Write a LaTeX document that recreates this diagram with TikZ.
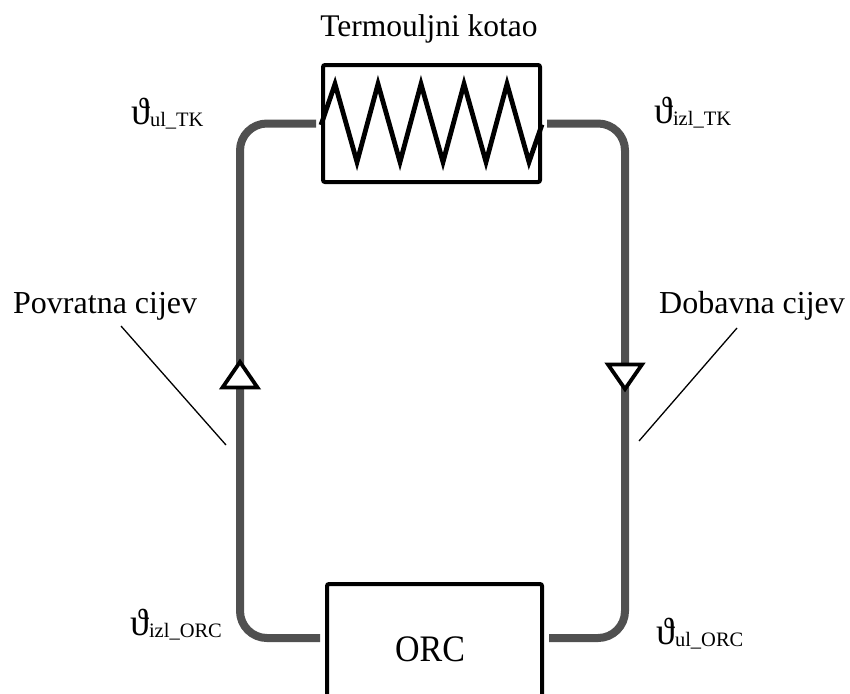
\documentclass[tikz,border=0pt]{standalone}
\usepackage{fontspec}
\setmainfont{Liberation Serif}
\usepackage{graphicx}
\definecolor{pipegray}{HTML}{505050}
\tikzset{
  pipe/.style={draw=pipegray, line width=8pt, rounded corners=27pt},
  unit/.style={draw=black, line width=4pt, rounded corners=2pt, inner sep=0pt},
  txt/.style={inner sep=0pt, font=\fontsize{32}{36}\selectfont},
  flowmark/.style={draw=black, fill=white, line width=3.8pt, line join=miter},
  leader/.style={draw=black, line width=1.3pt},
}
\newcommand{\tlabel}[1]{\fontsize{38}{40}\selectfont ϑ\raisebox{-2pt}{\fontsize{20.5}{22}\selectfont #1}}
\begin{document}
\begin{tikzpicture}[x=1pt,y=-1pt]
\useasboundingbox (0,0) rectangle (850,693);
% units
\node[unit, minimum width=217pt, minimum height=117pt] (heater) at (431.5,123.5) {};
\node[unit, minimum width=215pt, minimum height=200pt, anchor=north west] (orc) at (325,582) {};
\node[txt, anchor=base, font=\fontsize{34}{38}\selectfont] (orctxt) at (430,661) {\scalebox{1}[1.1]{ORC}};
% zigzag
\draw[line width=4.8pt, line join=miter]
  ([yshift=-1.5pt]heater.west) -- (335,84) -- (357,162) -- (378,84) -- (400,162) -- (421,84)
  -- (443,162) -- (464,84) -- (486,162) -- (507,84) -- (529,162) -- ([yshift=-1pt]heater.east);
% title
\node[txt, anchor=base, font=\fontsize{31.5}{36}\selectfont] (title) at (429,37) {Termouljni kotao};
% pipes
\coordinate (lc) at (240,638);
\coordinate (rc) at (625,638);
\draw[pipe] ([xshift=-5pt]heater.west) -- (lc |- heater.west) -- (lc) -- ([xshift=-5pt]orc.west |- lc);
\draw[pipe] ([xshift=5pt]heater.east) -- (rc |- heater.east) -- (rc) -- ([xshift=5pt]orc.east |- rc);
% flow marks
\path[flowmark] (240,362) -- (222.5,387.5) -- (257.5,387.5) -- cycle;
\path[flowmark] (625,389) -- (608,364.5) -- (642,364.5) -- cycle;
% pipe labels
\node[txt, anchor=base west] (pov) at (13,313) {Povratna cijev};
\node[txt, anchor=base west] (dob) at (659,313) {Dobavna cijev};
\coordinate (povA) at (121,326);
\coordinate (povB) at (226,445);
\coordinate (dobA) at (737,328);
\coordinate (dobB) at (639,441);
\draw[leader] (povA) -- (povB);
\draw[leader] (dobA) -- (dobB);
% temperature labels
\node[inner sep=0pt, anchor=base west] (t1) at (131,124) {\tlabel{ul\_TK}};
\node[inner sep=0pt, anchor=base west] (t2) at (654,123) {\tlabel{izl\_TK}};
\node[inner sep=0pt, anchor=base west] (t3) at (130,635) {\tlabel{izl\_ORC}};
\node[inner sep=0pt, anchor=base west] (t4) at (656,644) {\tlabel{ul\_ORC}};
\end{tikzpicture}
\end{document}
